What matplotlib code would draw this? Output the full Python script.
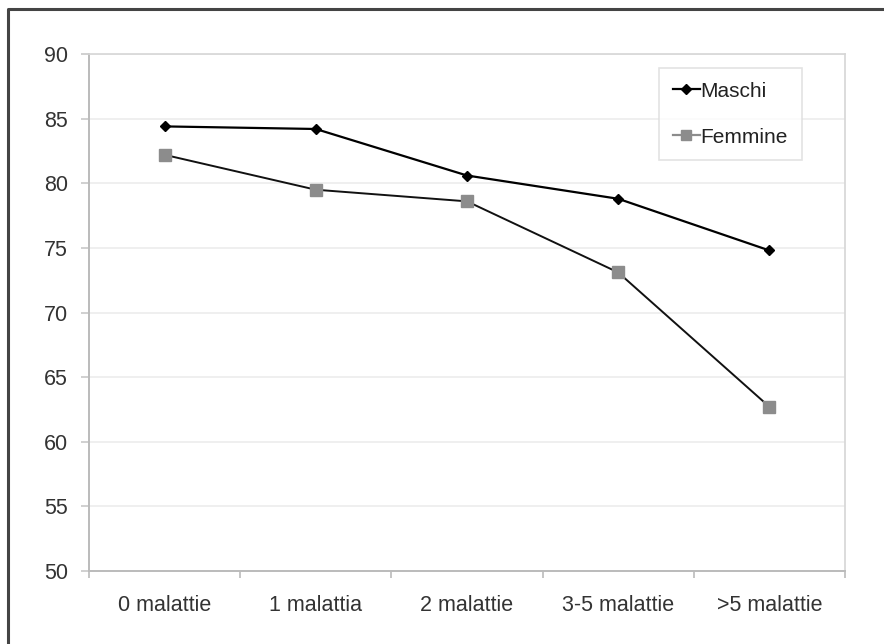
import matplotlib
matplotlib.use("Agg")
import matplotlib.pyplot as plt
from matplotlib.lines import Line2D
import numpy as np

# dati
categorie = ["0 malattie", "1 malattia", "2 malattie", "3-5 malattie", ">5 malattie"]
maschi = [84.4, 84.2, 80.6, 78.8, 74.8]
femmine = [82.2, 79.5, 78.6, 73.1, 62.7]
y_ticks = [50, 55, 60, 65, 70, 75, 80, 85, 90]

plt.rcParams["font.family"] = ["Liberation Sans", "DejaVu Sans"]

fig = plt.figure(figsize=(8.84, 6.44), dpi=100)
ax = fig.add_axes([0.1007, 0.1134, 0.8552, 0.8027])

# cornice esterna (solo lati sinistro e superiore visibili)
fig.lines.append(Line2D([0.0095, 0.0095, 1.0], [0.0, 0.986, 0.986],
                        transform=fig.transFigure, color="#444444", linewidth=2.2))

x = np.arange(len(categorie))
ax.plot(x, maschi, color="black", linewidth=1.6, marker="D", markersize=5.5,
        markerfacecolor="black", markeredgecolor="black", zorder=3)
ax.plot(x, femmine, color="#111111", linewidth=1.4, marker="s", markersize=8,
        markerfacecolor="#8c8c8c", markeredgecolor="#8c8c8c", zorder=3)

ax.set_xlim(-0.5, len(categorie) - 0.5)
ax.set_ylim(50, 90)
ax.set_yticks(y_ticks)
ax.set_xticks(x)
ax.set_xticklabels(categorie)
ax.set_xticks(np.arange(len(categorie) + 1) - 0.5, minor=True)

ax.tick_params(axis="x", which="major", length=0, pad=17, labelsize=15.5, labelcolor="#333333")
ax.tick_params(axis="x", which="minor", length=5, color="#bbbbbb", width=1.2)
ax.tick_params(axis="y", length=6, color="#c8c8c8", width=1.2, pad=9,
               labelsize=15.5, labelcolor="#333333")

ax.grid(axis="y", color="#ececec", linewidth=1.2)
ax.set_axisbelow(True)
for lato in ["left", "bottom"]:
    ax.spines[lato].set_color("#bbbbbb")
    ax.spines[lato].set_linewidth(1.4)
for lato in ["top", "right"]:
    ax.spines[lato].set_color("#d6d6d6")
    ax.spines[lato].set_linewidth(1.2)

handles = [
    Line2D([], [], color="black", linewidth=1.6, marker="D", markersize=5.5,
           markerfacecolor="black"),
    Line2D([], [], color="#8c8c8c", linewidth=1.6, marker="s", markersize=7,
           markerfacecolor="#8c8c8c", markeredgecolor="#8c8c8c"),
]
leg = ax.legend(handles, ["Maschi", "Femmine"], loc="upper left",
                bbox_to_anchor=(0.754, 0.973), fontsize=15, frameon=True,
                fancybox=False, edgecolor="#dcdcdc", handlelength=1.3,
                handletextpad=0.05, labelspacing=1.3, borderpad=0.65,
                borderaxespad=0)
leg.get_frame().set_linewidth(1.2)
for t in leg.get_texts():
    t.set_color("#222222")

fig.savefig("out.png", dpi=100)
